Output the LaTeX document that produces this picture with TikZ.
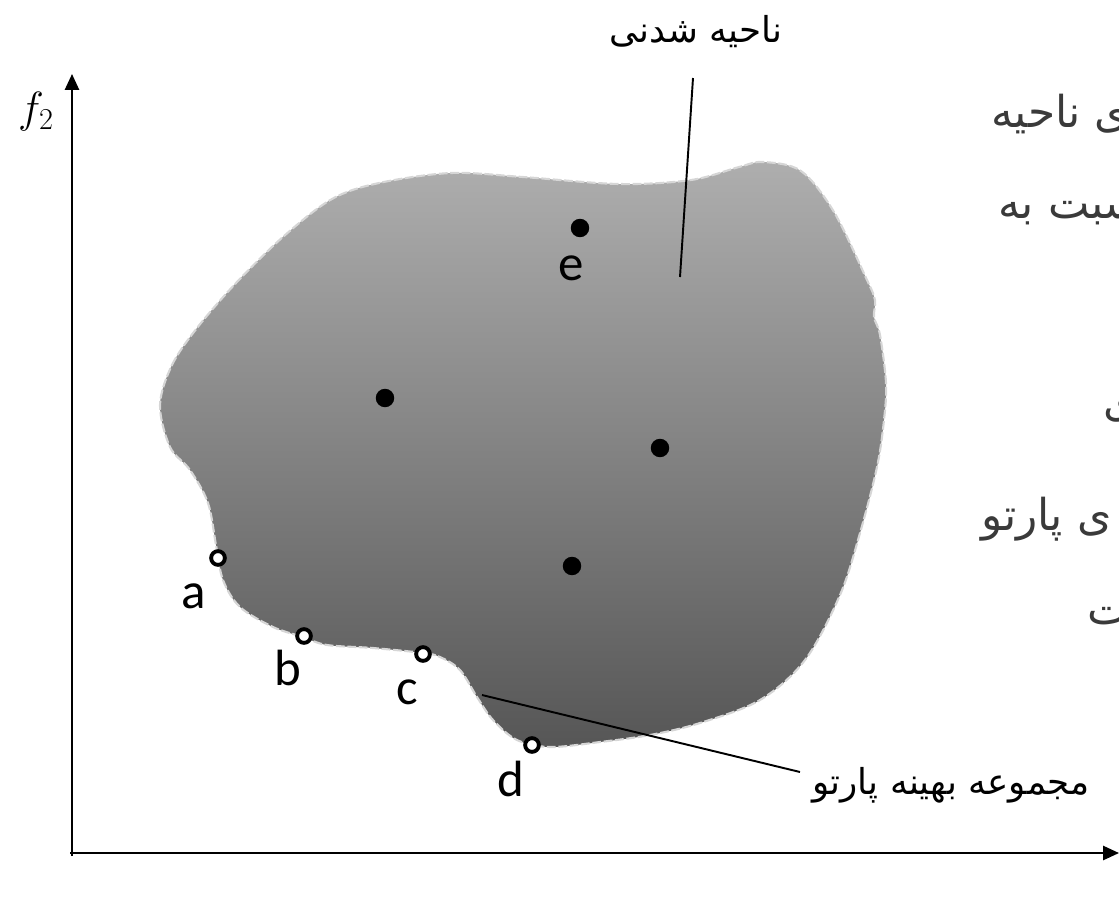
\documentclass[tikz,border=0pt]{standalone}
\usepackage{fontspec}
\usetikzlibrary{arrows.meta}
\TeXXeTstate=1
\newfontfamily\arabicfont[Script=Arabic]{DejaVu Sans}
\newfontfamily\latinsans{Carlito}
\definecolor{topg}{HTML}{AEAEAE}
\definecolor{botg}{HTML}{565656}
\definecolor{edgeg}{HTML}{D6D6D6}
\definecolor{fragg}{HTML}{3A3A3A}
\begin{document}
\begin{tikzpicture}[x=0.02cm,y=-0.02cm,
  axis/.style={line width=1.2pt,-{Triangle[length=9pt,width=8pt]}},
  fdot/.style={circle,fill=black,inner sep=0pt,minimum size=10.5pt},
  odot/.style={circle,draw=black,fill=white,line width=2.2pt,inner sep=0pt,minimum size=7.8pt},
  ptlab/.style={font=\latinsans\fontsize{29}{32}\selectfont,inner sep=0pt},
  fatext/.style={font=\arabicfont\fontsize{20.3}{23}\selectfont,inner sep=0pt},
  frag/.style={font=\arabicfont\fontsize{25}{28}\selectfont,text=fragg,inner sep=0pt,anchor=west},
  leader/.style={line width=1.1pt}]
\useasboundingbox (0,0) rectangle (1119,920);
\begin{scope}
\clip (0,0) rectangle (1119,920);
% background text fragments (cut at the right edge, as in the reference)
\node[frag] (t1) at (991,114) {\beginR ی ناحیه\endR};
\node[frag] (t2) at (998,213) {\beginR ^^^^200dسبت به\endR};
\node[frag] (t3) at (1103,410) {\beginR ی\endR};
\node[frag] (t4) at (981,519) {\beginR ی پارتو\endR};
\node[frag] (t5) at (1087,616) {\beginR ت\endR};
% axes
\coordinate (ytip) at (72,74);
\coordinate (xtip) at (1119,853);
\draw[axis] (72,856) -- (ytip);
\draw[axis] (70,853) -- (xtip);
\end{scope}
\node (f2) at (36,112) {\fontsize{26}{28}\selectfont$f_2$};
% region
\shade[top color=topg,bottom color=botg,draw=edgeg,line width=1.2pt,dash pattern=on 5pt off 1.5pt]
 plot[smooth cycle,tension=0.55] coordinates {
 (160,405) (172,365) (197,328) (236,283) (284,236) (332,199) (379,183) (451,173)
 (523,177) (619,184) (691,180) (739,167) (763,162) (801,171) (834,212) (867,280)
 (875,300) (874,317) (880,335) (886,383) (884,420) (877,467) (860,533) (840,595)
 (805,660) (760,700) (700,723) (650,735) (600,742) (550,747) (517,740) (493,720)
 (477,697) (460,670) (440,657) (423,653) (373,648) (327,645) (303,637) (273,627)
 (240,607) (223,580) (216,545) (208,503) (190,470) (170,447)};
% points
\node[fdot] (e) at (580,228) {};
\node[fdot] (p1) at (385,398) {};
\node[fdot] (p2) at (660,448) {};
\node[fdot] (p3) at (572,566) {};
\node[odot] (a) at (218,558) {};
\node[odot] (b) at (304,636) {};
\node[odot] (c) at (423,654) {};
\node[odot] (d) at (532,745) {};
\node[ptlab] (le) at (571,268) {e};
\node[ptlab] (la) at (194,596) {a};
\node[ptlab] (lb) at (288,668) {b};
\node[ptlab] (lc) at (407,692) {c};
\node[ptlab] (ld) at (511,779) {d};
% labels
\node[fatext] (feas) at (696,32) {\beginR ناحیه شدنی\endR};
\coordinate (feastop) at (693,78);
\coordinate (feasend) at (680,277);
\draw[leader] (feastop) -- (feasend);
\node[fatext,anchor=west] (par) at (812,785) {\beginR مجموعه بهینه پارتو\endR};
\coordinate (parstart) at (482,695);
\coordinate (parend) at (800,772);
\draw[leader] (parstart) -- (parend);
\end{tikzpicture}
\end{document}
